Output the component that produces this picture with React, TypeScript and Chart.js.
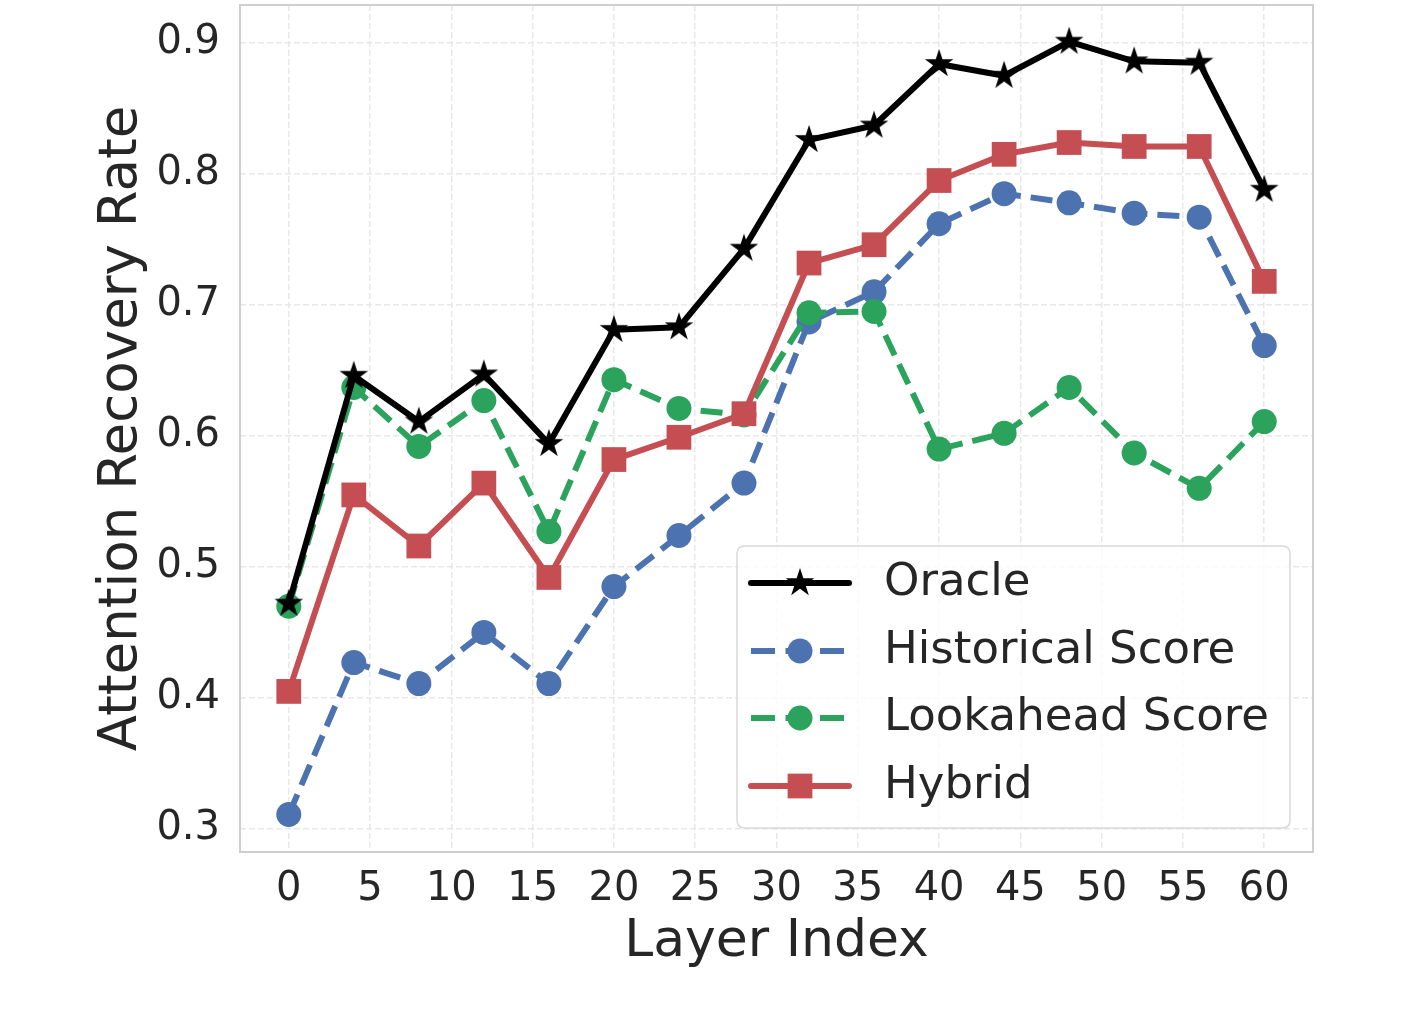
import React, { useEffect, useRef } from "react";
import { Chart, registerables } from "chart.js";

Chart.register(...registerables);

// ---------- data ----------
const layers = [0, 4, 8, 12, 16, 20, 24, 28, 32, 36, 40, 44, 48, 52, 56, 60];
const oracle = [0.472, 0.646, 0.611, 0.647, 0.594, 0.681, 0.683, 0.743, 0.826, 0.837, 0.884, 0.875, 0.901, 0.886, 0.885, 0.788];
const historical = [0.311, 0.427, 0.411, 0.45, 0.411, 0.485, 0.524, 0.564, 0.687, 0.71, 0.762, 0.785, 0.778, 0.77, 0.767, 0.669];
const lookahead = [0.47, 0.637, 0.592, 0.627, 0.527, 0.643, 0.621, 0.616, 0.694, 0.695, 0.59, 0.602, 0.637, 0.587, 0.56, 0.611];
const hybrid = [0.405, 0.555, 0.516, 0.564, 0.492, 0.582, 0.599, 0.617, 0.732, 0.746, 0.795, 0.815, 0.824, 0.821, 0.821, 0.718];
const seriesNames = ["Oracle", "Historical Score", "Lookahead Score", "Hybrid"];
const xTickValues = [0, 5, 10, 15, 20, 25, 30, 35, 40, 45, 50, 55, 60];
const yTickValues = [0.3, 0.4, 0.5, 0.6, 0.7, 0.8, 0.9];
const xTitle = "Layer Index";
const yTitle = "Attention Recovery Rate";

const FONT = "'DejaVu Sans', 'Liberation Sans', sans-serif";
const TEXT = "#262626";
const BLACK = "#000000";
const BLUE = "#4C72B0";
const GREEN = "#2BA35D";
const RED = "#C44E52";

function makeStar(outer: number, color: string): HTMLCanvasElement {
  const size = Math.ceil(outer * 2 + 4);
  const c = document.createElement("canvas");
  c.width = size;
  c.height = size;
  const ctx = c.getContext("2d")!;
  const cx = size / 2;
  const cy = size / 2;
  const inner = outer * 0.381966;
  ctx.beginPath();
  for (let i = 0; i < 10; i++) {
    const r = i % 2 === 0 ? outer : inner;
    const a = -Math.PI / 2 + (i * Math.PI) / 5;
    const x = cx + r * Math.cos(a);
    const y = cy + r * Math.sin(a);
    if (i === 0) ctx.moveTo(x, y);
    else ctx.lineTo(x, y);
  }
  ctx.closePath();
  ctx.fillStyle = color;
  ctx.fill();
  return c;
}

const framePlugin = {
  id: "frame",
  afterDatasetsDraw(chart: any) {
    const { ctx, chartArea } = chart;
    ctx.save();
    ctx.strokeStyle = "#cfcfcf";
    ctx.lineWidth = 2;
    ctx.strokeRect(chartArea.left, chartArea.top, chartArea.right - chartArea.left, chartArea.bottom - chartArea.top);
    ctx.restore();
  },
};

const legendPlugin = {
  id: "customLegend",
  afterDraw(chart: any) {
    const { ctx } = chart;
    const bx = 737, by = 546, bw = 553, bh = 282, rr = 8;
    ctx.save();
    ctx.beginPath();
    ctx.moveTo(bx + rr, by);
    ctx.lineTo(bx + bw - rr, by);
    ctx.quadraticCurveTo(bx + bw, by, bx + bw, by + rr);
    ctx.lineTo(bx + bw, by + bh - rr);
    ctx.quadraticCurveTo(bx + bw, by + bh, bx + bw - rr, by + bh);
    ctx.lineTo(bx + rr, by + bh);
    ctx.quadraticCurveTo(bx, by + bh, bx, by + bh - rr);
    ctx.lineTo(bx, by + rr);
    ctx.quadraticCurveTo(bx, by, bx + rr, by);
    ctx.closePath();
    ctx.fillStyle = "rgba(255,255,255,0.8)";
    ctx.fill();
    ctx.strokeStyle = "#d9d9d9";
    ctx.lineWidth = 1.5;
    ctx.stroke();

    const rows = [583, 651, 718, 786];
    const x0 = 751, x1 = 849, mx = 800, tx = 884;
    chart.data.datasets.forEach((ds: any, i: number) => {
      const y = rows[i];
      ctx.save();
      ctx.strokeStyle = ds.borderColor;
      ctx.lineWidth = ds.borderWidth;
      const dashed = ds.borderDash && ds.borderDash.length > 0;
      ctx.setLineDash(dashed ? [24, 10.5] : []);
      ctx.lineCap = dashed ? "butt" : "round";
      ctx.beginPath();
      ctx.moveTo(x0, y);
      ctx.lineTo(x1, y);
      ctx.stroke();
      ctx.restore();
      // marker
      ctx.save();
      ctx.fillStyle = ds.pointBackgroundColor;
      const ps = ds.pointStyle;
      if (ps === "circle") {
        ctx.beginPath();
        ctx.arc(mx, y, ds.pointRadius, 0, Math.PI * 2);
        ctx.fill();
      } else if (ps === "rect") {
        const s = ds.pointRadius * Math.SQRT1_2;
        ctx.fillRect(mx - s, y - s, 2 * s, 2 * s);
      } else if (ps instanceof HTMLCanvasElement) {
        ctx.drawImage(ps, mx - ps.width / 2, y - ps.height / 2);
      }
      ctx.restore();
      ctx.save();
      ctx.fillStyle = TEXT;
      ctx.font = `45px ${FONT}`;
      ctx.textAlign = "left";
      ctx.textBaseline = "middle";
      ctx.fillText(ds.label, tx, y);
      ctx.restore();
    });
    ctx.restore();
  },
};

export default function App() {
  const canvasRef = useRef<HTMLCanvasElement | null>(null);

  useEffect(() => {
    const canvas = canvasRef.current;
    if (!canvas) return;
    const star = makeStar(15, BLACK);
    const toPts = (vals: number[]) => layers.map((x, i) => ({ x, y: vals[i] }));
    const common = {
      borderWidth: 6,
      borderJoinStyle: "round",
      pointBorderWidth: 0,
      pointHoverRadius: 0,
      clip: false,
      fill: false,
      tension: 0,
    };
    const chart = new Chart(canvas, {
      type: "line",
      data: {
        datasets: [
          {
            ...common,
            label: seriesNames[0],
            data: toPts(oracle),
            borderColor: BLACK,
            backgroundColor: BLACK,
            pointBackgroundColor: BLACK,
            pointBorderColor: BLACK,
            pointStyle: star,
            pointRadius: 15,
            borderDash: [],
            order: 0,
          },
          {
            ...common,
            label: seriesNames[1],
            data: toPts(historical),
            borderColor: BLUE,
            backgroundColor: BLUE,
            pointBackgroundColor: BLUE,
            pointBorderColor: BLUE,
            pointStyle: "circle",
            pointRadius: 12.5,
            borderDash: [22, 10],
            order: 3,
          },
          {
            ...common,
            label: seriesNames[2],
            data: toPts(lookahead),
            borderColor: GREEN,
            backgroundColor: GREEN,
            pointBackgroundColor: GREEN,
            pointBorderColor: GREEN,
            pointStyle: "circle",
            pointRadius: 12.5,
            borderDash: [22, 10],
            order: 2,
          },
          {
            ...common,
            label: seriesNames[3],
            data: toPts(hybrid),
            borderColor: RED,
            backgroundColor: RED,
            pointBackgroundColor: RED,
            pointBorderColor: RED,
            pointStyle: "rect",
            pointRadius: 17.5,
            borderDash: [],
            order: 1,
          },
        ] as any,
      },
      options: {
        animation: false,
        responsive: false,
        maintainAspectRatio: false,
        devicePixelRatio: 1,
        layout: { autoPadding: false, padding: { left: 0, top: 5, right: 103, bottom: 0 } },
        plugins: {
          legend: { display: false },
          tooltip: { enabled: false },
        },
        events: [],
        scales: {
          x: {
            type: "linear",
            min: -3,
            max: 63,
            afterBuildTicks: (scale: any) => {
              scale.ticks = xTickValues.map((v) => ({ value: v }));
            },
            afterFit: (scale: any) => {
              scale.height = 162;
              scale.paddingLeft = 0;
              scale.paddingRight = 0;
            },
            ticks: {
              color: TEXT,
              font: { family: FONT, size: 40 },
              padding: 14,
              maxRotation: 0,
              autoSkip: false,
              callback: (v: any) => String(v),
            },
            grid: {
              color: "#e8e8e8",
              lineWidth: 1.5,
              drawTicks: false,
            },
            border: { display: false, dash: [6, 3] },
            title: {
              display: true,
              text: xTitle,
              color: TEXT,
              font: { family: FONT, size: 52 },
              padding: { top: 0, bottom: 40 },
            },
          },
          y: {
            type: "linear",
            min: 0.2824,
            max: 0.929,
            afterBuildTicks: (scale: any) => {
              scale.ticks = yTickValues.map((v) => ({ value: v }));
            },
            afterFit: (scale: any) => {
              scale.width = 240;
              scale.paddingTop = 0;
              scale.paddingBottom = 0;
            },
            ticks: {
              color: TEXT,
              font: { family: FONT, size: 40 },
              padding: 20,
              autoSkip: false,
              callback: (v: any) => Number(v).toFixed(1),
            },
            grid: {
              color: "#e8e8e8",
              lineWidth: 1.5,
              drawTicks: false,
            },
            border: { display: false, dash: [6, 3] },
            title: {
              display: true,
              text: yTitle,
              color: TEXT,
              font: { family: FONT, size: 53 },
              padding: { top: 90, bottom: 0 },
            },
          },
        },
      } as any,
      plugins: [framePlugin, legendPlugin],
    });
    return () => chart.destroy();
  }, []);

  return (
    <div style={{ position: "absolute", left: 0, top: 0, width: 1416, height: 1014, background: "#ffffff" }}>
      <canvas ref={canvasRef} width={1416} height={1014} style={{ display: "block" }} />
    </div>
  );
}
